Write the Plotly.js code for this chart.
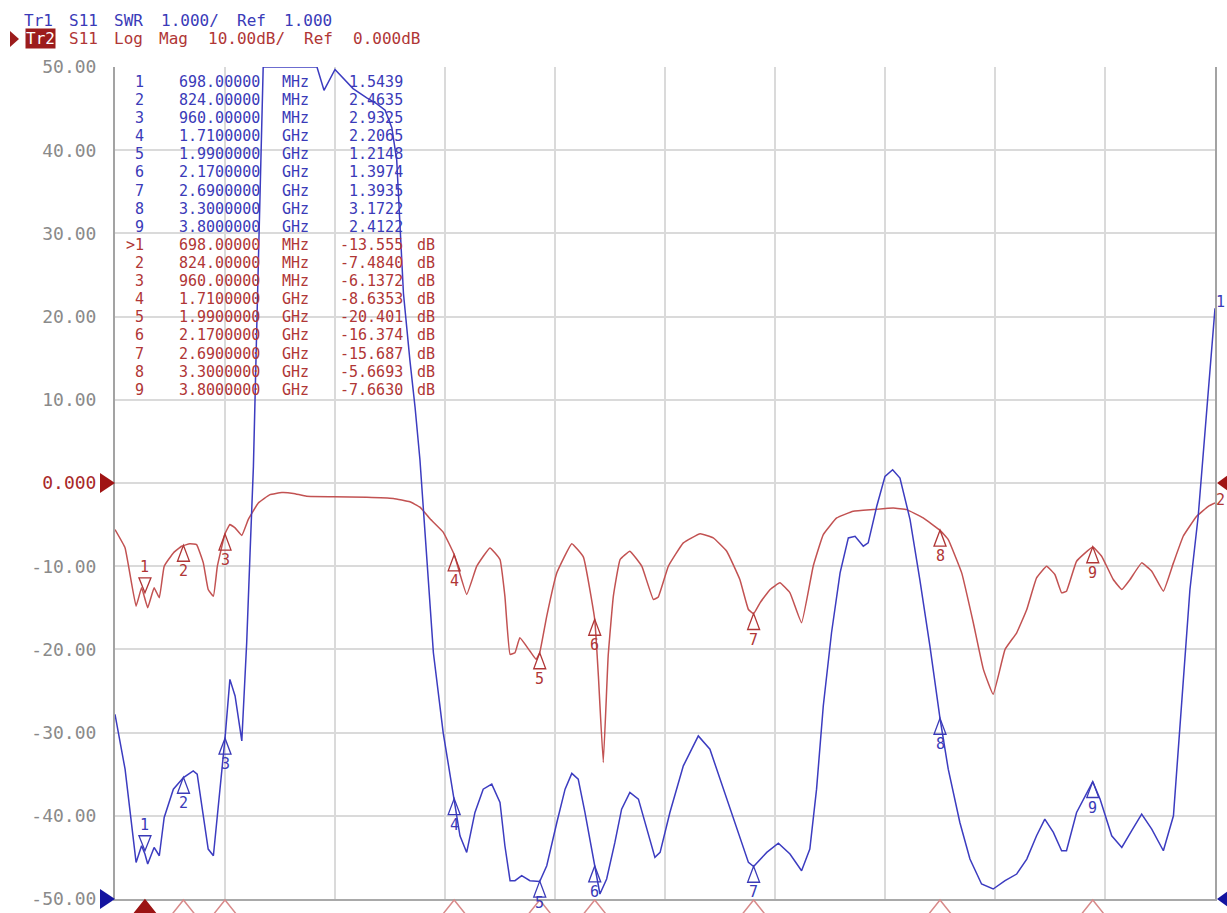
<!DOCTYPE html>
<html><head><meta charset="utf-8">
<script src="https://cdn.plot.ly/plotly-3.0.1.min.js"></script>
<style>html,body{margin:0;padding:0;background:#fff}</style>
</head><body><div id="chart" style="width:1227px;height:913px"></div>
<script>
// ---- Trace 2: S11 Log Mag (dB) ----
const logMagFreqGHz = [0.600,0.633,0.669,0.687,0.707,0.728,0.745,0.761,0.791,0.818,0.845,0.867,0.889,0.905,0.922,0.935,0.960,0.976,0.993,1.015,1.036,1.069,1.107,1.146,1.184,1.227,1.314,1.424,1.511,1.565,1.598,1.631,1.674,1.710,1.751,1.784,1.827,1.860,1.876,1.893,1.909,1.925,1.958,1.978,1.990,2.013,2.046,2.095,2.133,2.170,2.182,2.198,2.214,2.231,2.253,2.285,2.324,2.362,2.378,2.411,2.460,2.515,2.558,2.602,2.645,2.673,2.690,2.711,2.744,2.776,2.809,2.847,2.885,2.918,2.962,3.016,3.082,3.147,3.191,3.245,3.300,3.327,3.371,3.409,3.442,3.474,3.513,3.551,3.584,3.616,3.649,3.676,3.698,3.714,3.747,3.800,3.829,3.867,3.895,3.922,3.960,3.993,4.031,4.064,4.096,4.140,4.178,4.200];
const logMagDb = [-5.6,-7.8,-14.8,-12.6,-15.0,-12.6,-13.8,-10.0,-8.4,-7.6,-7.3,-7.4,-9.6,-12.8,-13.6,-10.0,-6.1,-5.0,-5.4,-6.3,-4.4,-2.4,-1.4,-1.15,-1.25,-1.6,-1.65,-1.7,-1.85,-2.25,-2.9,-4.3,-5.9,-8.6,-13.4,-10.0,-7.8,-9.2,-13.6,-20.6,-20.4,-18.6,-20.2,-21.2,-20.4,-16.0,-10.8,-7.3,-8.9,-16.4,-23.2,-33.6,-20.8,-13.6,-9.2,-8.2,-10.0,-14.0,-13.7,-10.0,-7.2,-6.1,-6.6,-8.2,-11.6,-15.2,-15.7,-14.4,-12.8,-12.0,-13.2,-16.8,-10.0,-6.2,-4.2,-3.4,-3.2,-3.0,-3.2,-4.2,-5.7,-6.8,-10.8,-16.8,-22.4,-25.4,-20.0,-18.0,-15.2,-11.4,-10.0,-11.0,-13.2,-13.0,-9.4,-7.7,-8.8,-11.6,-12.8,-11.6,-9.6,-10.6,-13.0,-9.6,-6.4,-4.0,-2.8,-2.4];

// ---- Trace 1: S11 SWR ----
const swrFreqGHz = [0.600,0.633,0.669,0.687,0.698,0.707,0.728,0.745,0.761,0.791,0.824,0.856,0.869,0.889,0.905,0.922,0.935,0.960,0.976,0.993,1.015,1.031,1.042,1.053,1.064,1.075,1.085,1.261,1.284,1.320,1.379,1.424,1.456,1.484,1.506,1.522,1.533,1.544,1.565,1.582,1.598,1.642,1.674,1.710,1.729,1.751,1.778,1.805,1.833,1.860,1.876,1.893,1.909,1.931,1.958,1.990,2.013,2.046,2.073,2.095,2.116,2.138,2.170,2.187,2.209,2.236,2.258,2.285,2.313,2.340,2.367,2.384,2.416,2.460,2.509,2.547,2.591,2.635,2.673,2.690,2.733,2.771,2.809,2.847,2.874,2.896,2.918,2.945,2.973,3.000,3.022,3.049,3.065,3.093,3.120,3.145,3.169,3.202,3.234,3.267,3.300,3.327,3.365,3.398,3.436,3.474,3.513,3.551,3.584,3.616,3.643,3.671,3.698,3.714,3.747,3.800,3.824,3.862,3.895,3.927,3.960,3.993,4.031,4.064,4.091,4.118,4.145,4.165,4.183,4.200];
const swrValues = [3.22,2.56,1.44,1.64,1.54,1.42,1.62,1.52,1.98,2.32,2.46,2.54,2.50,2.00,1.60,1.52,2.00,2.93,3.64,3.44,2.90,4.08,5.16,6.20,7.88,9.48,11.0,11.0,10.72,10.97,10.74,10.63,10.56,10.48,10.27,9.88,9.07,8.28,7.48,6.91,6.28,3.96,3.00,2.21,1.76,1.56,2.04,2.32,2.38,2.16,1.64,1.22,1.22,1.28,1.22,1.21,1.40,1.92,2.32,2.51,2.44,2.04,1.40,1.06,1.24,1.68,2.08,2.28,2.20,1.84,1.50,1.56,2.04,2.60,2.96,2.80,2.32,1.84,1.44,1.39,1.56,1.67,1.54,1.34,1.60,2.32,3.32,4.20,4.92,5.34,5.36,5.24,5.28,5.72,6.08,6.16,6.06,5.56,4.84,4.04,3.17,2.56,1.92,1.48,1.18,1.12,1.22,1.30,1.48,1.76,1.96,1.80,1.58,1.58,2.04,2.41,2.20,1.76,1.62,1.82,2.02,1.84,1.58,2.00,3.32,4.72,5.60,6.50,7.30,8.10];

// ---- Markers ----
const markerNums = [1,2,3,4,5,6,7,8,9];
const markerFreqGHz = [0.698,0.824,0.960,1.710,1.990,2.170,2.690,3.300,3.800];
const markerSwr = [1.5439,2.4635,2.9325,2.2065,1.2148,1.3974,1.3935,3.1722,2.4122];
const markerLogMag = [-13.555,-7.4840,-6.1372,-8.6353,-20.401,-16.374,-15.687,-5.6693,-7.6630];

// ---- Axis ticks & header texts ----
const yTickVals = [50,40,30,20,10,0,-10,-20,-30,-40,-50];
const yTickText = ['50.00','40.00','30.00','20.00','10.00','0.000','-10.00','-20.00','-30.00','-40.00','-50.00'];
const header1 = 'Tr1 S11 SWR 1.000/ Ref 1.000';
const header2 = 'S11 Log Mag 10.00dB/ Ref 0.000dB';

const FONT = 'DejaVu Sans Mono';
const BLUE_T = '#3a3ab8', RED_T = '#b03636';
const BLUE_L = '#3c3cc0', RED_L = '#c25252';
const PX = x => (x - 115) / 1100;
const PY = y => (899 - y) / 832;

const traces = [
  {x: logMagFreqGHz, y: logMagDb, type:'scatter', mode:'lines', line:{color:RED_L, width:1.5, shape:'spline', smoothing:0.3}, yaxis:'y', hoverinfo:'skip'},
  {x: swrFreqGHz, y: swrValues, type:'scatter', mode:'lines', line:{color:BLUE_L, width:1.5}, yaxis:'y2', hoverinfo:'skip', cliponaxis:false}
];

const fmtFreq = f => f < 1 ? (f*1000).toFixed(5) + ' MHz' : f.toFixed(7) + ' GHz';
const annotations = [];
const shapes = [];
function txt(x, y, text, color, xanchor, size, extra) {
  annotations.push(Object.assign({xref:'paper', yref:'paper', x:PX(x), y:PY(y), text, showarrow:false, borderpad:0,
    xanchor, yanchor:'middle', font:{family:FONT, size:size||15, color}}, extra||{}));
}
// header: words laid on the instrument's character grid (11.2 px pitch)
function headerLine(str, startCol, y, color) {
  let col = startCol;
  str.split(' ').forEach(w => {
    txt(22 + 11.2*(col + w.length/2), y, w, color, 'center', 16);
    col += w.length + 1;
  });
}
headerLine(header1, 0, 20, BLUE_T);
txt(40, 39, 'Tr2', '#ffffff', 'center', 16, {bgcolor:'#9c1c1c'});
headerLine(header2, 4, 39, RED_T);
shapes.push({type:'path', xref:'paper', yref:'paper', path:`M${PX(10)},${PY(31)} L${PX(19)},${PY(39)} L${PX(10)},${PY(47)} Z`, fillcolor:'#9c1c1c', line:{width:0}});

// marker table
markerNums.forEach((n, i) => {
  const yb = 82 + i*18.1, yr = 82 + (i+9)*18.1;
  const [fTxt, uTxt] = fmtFreq(markerFreqGHz[i]).split(' ');
  txt(145, yb, String(n), BLUE_T, 'right');
  txt(219, yb, fTxt, BLUE_T, 'center');
  txt(295, yb, uTxt, BLUE_T, 'center');
  txt(404, yb, markerSwr[i].toFixed(4), BLUE_T, 'right');
  txt(145, yr, (i === 0 ? '>' : '') + n, RED_T, 'right');
  txt(219, yr, fTxt, RED_T, 'center');
  txt(295, yr, uTxt, RED_T, 'center');
  txt(404, yr, markerLogMag[i].toPrecision(5), RED_T, 'right');
  txt(426, yr, 'dB', RED_T, 'center');
});

// markers on traces
function markerOn(f, v, yref, color, n, pxY) {
  const active = n === 1;
  shapes.push({type:'path', xref:'x', yref, xsizemode:'pixel', ysizemode:'pixel', xanchor:f, yanchor:v,
    path: active ? 'M0,3 L-6,18 L6,18 Z' : 'M0,0 L-6,-16 L6,-16 Z',
    line:{color, width:1.3}, fillcolor:'rgba(0,0,0,0)'});
  let ys = active ? 29 : -26;
  if (!active && pxY + 26 > 903) ys = -(903 - pxY);
  annotations.push({xref:'x', yref, x:f, y:v, text:String(n), showarrow:false, xanchor:'center', yanchor:'middle', borderpad:0,
    yshift: ys, font:{family:FONT, size:15, color}});
}
markerNums.forEach((n, i) => {
  markerOn(markerFreqGHz[i], markerLogMag[i], 'y', RED_T, n, 483 - markerLogMag[i]*8.32);
  markerOn(markerFreqGHz[i], markerSwr[i], 'y2', BLUE_T, n, 899 - (markerSwr[i]-1)*83.2);
  // stimulus markers below the axis
  shapes.push({type:'path', xref:'x', yref:'paper', xsizemode:'pixel', ysizemode:'pixel', xanchor:markerFreqGHz[i], yanchor:0,
    path:'M0,-1 L-12,-16 L12,-16 Z', line:{color: n===1 ? '#9c1414' : '#d88a8a', width:1.5},
    fillcolor: n===1 ? '#9c1414' : 'rgba(255,255,255,0)'});
});

// reference position triangles
[[0.5,'#a01414'],[0,'#1414a0']].forEach(([py, c]) => {
  shapes.push({type:'path', xref:'paper', yref:'paper', xsizemode:'pixel', ysizemode:'pixel', xanchor:0, yanchor:py,
    path:'M0,0 L-15,10 L-15,-10 Z', fillcolor:c, line:{width:0}});
  shapes.push({type:'path', xref:'paper', yref:'paper', xsizemode:'pixel', ysizemode:'pixel', xanchor:1, yanchor:py,
    path:'M2,0 L16,10 L16,-10 Z', fillcolor:c, line:{width:0}});
});

// trace end labels
annotations.push({xref:'x', yref:'y2', x:swrFreqGHz[swrFreqGHz.length-1], y:swrValues[swrValues.length-1], text:'1', showarrow:false,
  xanchor:'left', yanchor:'middle', borderpad:0, yshift:6, font:{family:FONT, size:15, color:BLUE_T}});
annotations.push({xref:'x', yref:'y', x:logMagFreqGHz[logMagFreqGHz.length-1], y:logMagDb[logMagDb.length-1], text:'2', showarrow:false,
  xanchor:'left', yanchor:'middle', borderpad:0, yshift:3, font:{family:FONT, size:15, color:RED_T}});

const layout = {
  width:1227, height:913, margin:{l:115, r:12, t:67, b:14}, paper_bgcolor:'#ffffff', plot_bgcolor:'#ffffff', showlegend:false,
  xaxis:{range:[0.6,4.2], tick0:0.6, dtick:0.36, showticklabels:false, ticks:'', showgrid:true, gridcolor:'#dadada', gridwidth:2,
    zeroline:false, showline:true, linecolor:'#a9a9a9', linewidth:2, fixedrange:true},
  yaxis:{range:[-50,50], tickmode:'array', tickvals:yTickVals,
    ticktext: yTickText.map(t => t === '0.000' ? '<span style="color:#a82828">' + t + '</span>' : t),
    showgrid:true, gridcolor:'#dadada', gridwidth:2, zeroline:false, showline:true, mirror:true, linecolor:'#a3a3a3', linewidth:2,
    ticks:'', ticklabelstandoff:13, tickfont:{family:FONT, size:18, color:'#8a8a8a'}, fixedrange:true},
  yaxis2:{range:[1,11], overlaying:'y', visible:false, fixedrange:true},
  annotations, shapes
};
Plotly.newPlot('chart', traces, layout, {staticPlot:true, displayModeBar:false});
</script></body></html>
